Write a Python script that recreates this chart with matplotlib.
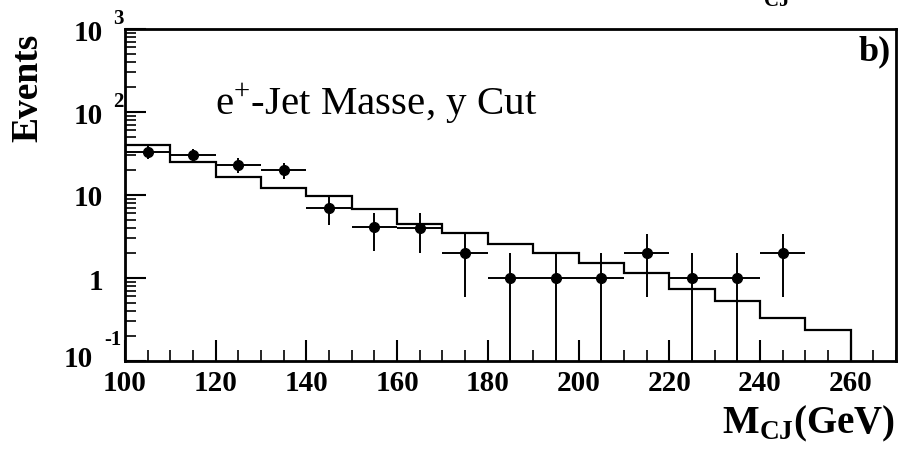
import matplotlib
matplotlib.use("Agg")
import matplotlib.pyplot as plt
import matplotlib.transforms as mtrans
import numpy as np

# ---- data ----
bin_edges = [100, 110, 120, 130, 140, 150, 160, 170, 180, 190, 200, 210, 220, 230, 240, 250, 260]
mc_values = [40, 25, 16.3, 12, 9.8, 6.8, 4.5, 3.5, 2.57, 2.0, 1.5, 1.14, 0.74, 0.53, 0.33, 0.236]

data_x = [105, 115, 125, 135, 145, 155, 165, 175, 185, 195, 205, 215, 225, 235, 245]
data_y = [33, 30, 23, 20, 7, 4.1, 4, 2, 1, 1, 1, 2, 1, 1, 2]
data_err = [5.7, 5.5, 4.8, 4.5, 2.6, 2.0, 2.0, 1.41, 1, 1, 1, 1.41, 1, 1, 1.41]
data_xerr = [5] * 15

xticks = [100, 120, 140, 160, 180, 200, 220, 240, 260]
yticks = [0.1, 1, 10, 100, 1000]
ytick_labels = ["10", "1", "10", "10", "10"]
ytick_exps = ["-1", "", "", "2", "3"]

serif = ["Liberation Serif", "DejaVu Serif"]
plt.rcParams["mathtext.fontset"] = "custom"
plt.rcParams["mathtext.rm"] = "Liberation Serif"
plt.rcParams["mathtext.bf"] = "Liberation Serif:bold"

fig = plt.figure(figsize=(9.01, 4.52), dpi=100)
ax = fig.add_axes([125 / 901, 90 / 452, 771 / 901, 332 / 452])

ax.stairs(mc_values, bin_edges, baseline=1e-3, color="black", linewidth=1.6)
ax.errorbar(data_x, data_y, yerr=[data_err, data_err], xerr=data_xerr, fmt="o",
            color="black", markersize=7, elinewidth=1.4, capsize=0)

ax.set_yscale("log")
ax.set_xlim(100, 270)
ax.set_ylim(0.1, 1000)

ax.set_xticks(xticks)
ax.set_xticklabels([str(v) for v in xticks], fontfamily=serif, fontweight="bold", fontsize=21)
ax.xaxis.set_minor_locator(matplotlib.ticker.MultipleLocator(5))
ax.set_yticks(yticks)
ax.set_yticklabels(ytick_labels, fontfamily=serif, fontweight="bold", fontsize=21)
ax.yaxis.set_minor_locator(matplotlib.ticker.LogLocator(base=10, subs=np.arange(2, 10)))
ax.yaxis.set_minor_formatter(matplotlib.ticker.NullFormatter())

ax.tick_params(axis="both", which="major", direction="in", length=15, width=1.5,
               top=False, right=False, pad=6)
ax.tick_params(axis="both", which="minor", direction="in", length=8, width=1.2,
               top=False, right=False)
ax.tick_params(axis="y", which="major", pad=16)

for sp in ax.spines.values():
    sp.set_linewidth(2)

# shift the lowest "10" label (ROOT-style placement)
lbl0 = ax.get_yticklabels()[0]
lbl0.set_transform(lbl0.get_transform() + mtrans.ScaledTranslation(-10 / 100, 5 / 100, fig.dpi_scale_trans))

# exponents of y tick labels
for val, exp in zip(yticks, ytick_exps):
    if not exp:
        continue
    if exp == "-1":
        dx, dy = -12 * 0.72, 22 * 0.72
    else:
        dx, dy = -7 * 0.72, 11 * 0.72
    ax.annotate(exp, xy=(0, val), xycoords=("axes fraction", "data"),
                xytext=(dx, dy), textcoords="offset points", ha="center", va="center",
                fontfamily=serif, fontweight="bold", fontsize=15)

ax.text(0.117, 0.78, r"e$^{+}$-Jet Masse, y Cut", transform=ax.transAxes,
        fontfamily=serif, fontsize=29.5, ha="left", va="center")
ax.text(0.993, 0.985, "b)", transform=ax.transAxes, fontfamily=serif, fontweight="bold",
        fontsize=26, ha="right", va="top")

fig.text(28 / 901, 1 - 88 / 452, "Events", rotation=90, fontfamily=serif, fontweight="bold",
         fontsize=27, ha="center", va="center")
fig.text(895 / 901, 1 - 433 / 452, r"M$_{\mathbf{CJ}}$(GeV)", fontfamily=serif, fontweight="bold",
         fontsize=28, ha="right", va="baseline")
# fragment of the label of the panel above (only its lower edge is visible)
fig.text(777 / 901, 1 - 1 / 452, "CJ", fontfamily=serif, fontweight="bold",
         fontsize=15, ha="center", va="center")

fig.savefig("out.png", dpi=100)
